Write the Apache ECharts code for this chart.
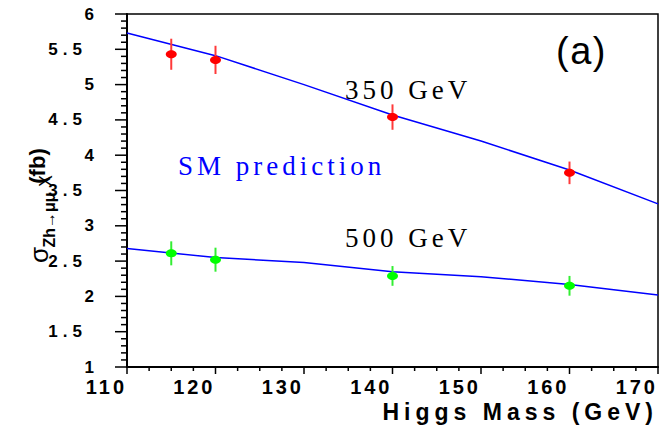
<!DOCTYPE html>
<html><head><meta charset="utf-8">
<script src="https://cdn.jsdelivr.net/npm/echarts@6/dist/echarts.min.js"></script>
<style>
html,body{margin:0;padding:0;background:#fff;}
#c{width:669px;height:430px;}
</style></head><body><div id="c"></div>
<script>
// measured points (Higgs mass, cross section, error)
const masses = [115, 120, 140, 160];
const sig350 = [5.43, 5.35, 4.54, 3.75];
const err350 = [0.22, 0.20, 0.18, 0.16];
const sig500 = [2.61, 2.52, 2.29, 2.15];
const err500 = [0.17, 0.17, 0.14, 0.14];
// SM prediction curves
const smMass = [110, 120, 130, 140, 150, 160, 170];
const sm350 = [5.73, 5.41, 5.00, 4.57, 4.20, 3.79, 3.31];
const sm500 = [2.68, 2.55, 2.48, 2.35, 2.28, 2.17, 2.02];
// tick labels / major tick positions
const xTickLabels = ['110', '120', '130', '140', '150', '160', '170'];
const yTickLabels = ['1', '1.5', '2', '2.5', '3', '3.5', '4', '4.5', '5', '5.5', '6'];
const xMajor = [110, 120, 130, 140, 150, 160, 170];
const yMajor = [1, 1.5, 2, 2.5, 3, 3.5, 4, 4.5, 5, 5.5, 6];

function subdivide(arr, n) {
  const out = [];
  for (let i = 0; i < arr.length - 1; i++) for (let k = 1; k < n; k++) out.push(arr[i] + (arr[i + 1] - arr[i]) * k / n);
  return out;
}
const xTicks = xMajor.map(v => [v, 1, 7]).concat(subdivide(xMajor, 4).map(v => [v, 1, 4]));
const yTicks = yMajor.map(v => [110, v, 12]).concat(subdivide(yMajor, 5).map(v => [110, v, 6]));

const chart = echarts.init(document.getElementById('c'), null, {renderer: 'svg'});

function errRender(fill, barColor) {
  return function (params, api) {
    const x = api.value(0), y = api.value(1), e = api.value(2);
    const c = api.coord([x, y]);
    const t = api.coord([x, y + e]);
    const b = api.coord([x, y - e]);
    return {
      type: 'group',
      children: [
        {type: 'line', shape: {x1: c[0], y1: t[1], x2: c[0], y2: b[1]}, style: {stroke: barColor, lineWidth: 2}},
        {type: 'ellipse', shape: {cx: c[0], cy: c[1], rx: 5.5, ry: 4}, style: {fill: fill}}
      ]
    };
  };
}

const serif = "'Liberation Serif', 'Times New Roman', serif";
const sans = "'Liberation Sans', Arial, sans-serif";

const textGraphics = [
  {type: 'text', x: 556, y: 51, style: {text: '(a)', fontFamily: sans, fontSize: 38, fill: '#000', verticalAlign: 'middle'}},
  {type: 'text', x: 345, y: 90, style: {text: '350 GeV', fontFamily: serif, fontSize: 27, fill: '#000', verticalAlign: 'middle'}},
  {type: 'text', x: 178, y: 166, style: {text: 'SM prediction', fontFamily: serif, fontSize: 27, fill: '#0000ff', verticalAlign: 'middle'}},
  {type: 'text', x: 345, y: 238, style: {text: '500 GeV', fontFamily: serif, fontSize: 27, fill: '#000', verticalAlign: 'middle'}},
  // rotated y-axis title
  {type: 'text', x: 39, y: 255, rotation: Math.PI / 2, style: {text: 'σ', fontFamily: sans, fontSize: 26, fill: '#000', align: 'center', verticalAlign: 'middle'}},
  {type: 'text', x: 49, y: 220, rotation: Math.PI / 2, style: {text: 'Zh→μμ', fontFamily: sans, fontWeight: 'bold', fontSize: 16, fill: '#000', align: 'center', verticalAlign: 'middle'}},
  {type: 'text', x: 46, y: 181, rotation: Math.PI / 2, style: {text: 'X', fontFamily: sans, fontSize: 18, fill: '#000', align: 'center', verticalAlign: 'middle'}},
  {type: 'text', x: 37, y: 166, rotation: Math.PI / 2, style: {text: '(fb)', fontFamily: sans, fontWeight: 'bold', fontSize: 22, fill: '#000', align: 'center', verticalAlign: 'middle'}}
];

chart.setOption({
  animation: false,
  grid: {left: 127, right: 11, top: 14, bottom: 63, show: true, borderColor: '#000', borderWidth: 1.5},
  xAxis: {
    type: 'value', min: 110, max: 170, interval: 10,
    axisLine: {show: true, lineStyle: {color: '#000', width: 2}},
    axisTick: {show: false},
    minorTick: {show: false},
    splitLine: {show: false},
    axisLabel: {
      margin: 10, align: 'right', color: '#000', fontFamily: sans, fontWeight: 'bold', fontSize: 20,
      formatter: v => xTickLabels[Math.round((v - 110) / 10)] || ''
    },
    name: 'Higgs Mass (GeV)', nameLocation: 'end', nameGap: 0,
    nameTextStyle: {align: 'right', verticalAlign: 'top', padding: [33, 0, 0, 0], color: '#000', fontFamily: sans, fontWeight: 'bold', fontSize: 23}
  },
  yAxis: {
    type: 'value', min: 1, max: 6, interval: 0.5,
    axisLine: {show: true, lineStyle: {color: '#000', width: 2}},
    axisTick: {show: false},
    minorTick: {show: false},
    splitLine: {show: false},
    axisLabel: {
      margin: 28, align: 'right', color: '#000', fontFamily: sans, fontWeight: 'bold', fontSize: 17,
      formatter: v => {
        const s = yTickLabels[Math.round((v - 1) / 0.5)] || '';
        return s.indexOf('.') >= 0 ? '{d|' + s + '}' : '{i|' + s + '}';
      },
      rich: {
        i: {fontFamily: sans, fontWeight: 'bold', fontSize: 17, color: '#000'},
        d: {fontFamily: sans, fontWeight: 'bold', fontSize: 17, color: '#000', padding: [0, 12, 0, 0]}
      }
    }
  },
  series: [
    {type: 'line', data: smMass.map((m, i) => [m, sm350[i]]), showSymbol: false, symbol: 'none',
     lineStyle: {color: '#0000ff', width: 1.5}, z: 2},
    {type: 'line', data: smMass.map((m, i) => [m, sm500[i]]), showSymbol: false, symbol: 'none',
     lineStyle: {color: '#0000ff', width: 1.5}, z: 2},
    {type: 'custom', data: masses.map((m, i) => [m, sig350[i], err350[i]]),
     renderItem: errRender('#ff0000', '#ff3a3a'), z: 3},
    {type: 'custom', data: masses.map((m, i) => [m, sig500[i], err500[i]]),
     renderItem: errRender('#00ff00', '#33ee33'), z: 3}
  ],
  graphic: textGraphics
});

// axis tick marks, positioned through the chart's own axis scales
try {
  const tickGraphics = [];
  xTicks.forEach(t => {
    const p = chart.convertToPixel({gridIndex: 0}, [t[0], t[1]]);
    tickGraphics.push({type: 'line', z: 100, shape: {x1: p[0], y1: p[1], x2: p[0], y2: p[1] + t[2]}, style: {stroke: '#000', lineWidth: 1.5}});
  });
  yTicks.forEach(t => {
    const p = chart.convertToPixel({gridIndex: 0}, [t[0], t[1]]);
    tickGraphics.push({type: 'line', z: 100, shape: {x1: p[0] - t[2], y1: p[1], x2: p[0], y2: p[1]}, style: {stroke: '#000', lineWidth: 1.5}});
  });
  chart.setOption({graphic: textGraphics.concat(tickGraphics)});
} catch (e) {}

function applySpacing() {
  const map = {'20px': '3px', '17px': '5px', '23px': '5px', '27px': '4px', '38px': '1.5px'};
  document.querySelectorAll('#c svg text').forEach(el => {
    const fsr = Math.round(parseFloat(getComputedStyle(el).fontSize)) + 'px';
    if (map[fsr]) el.style.letterSpacing = map[fsr];
  });
}
applySpacing();
chart.on('finished', applySpacing);
</script></body></html>
